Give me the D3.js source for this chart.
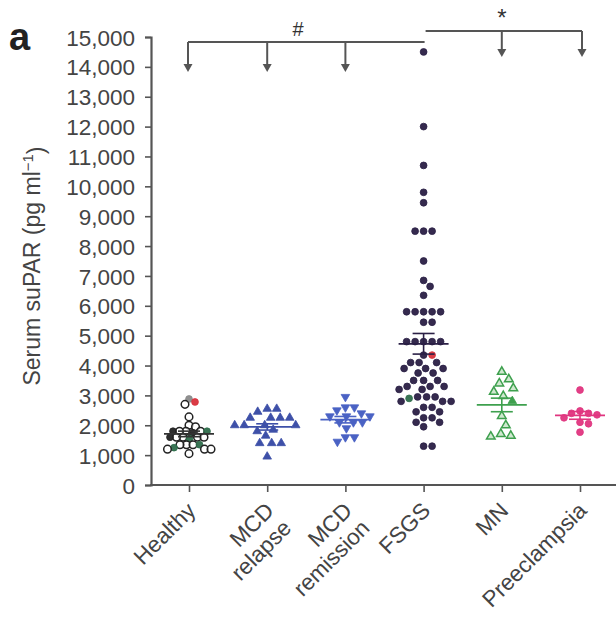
<!DOCTYPE html>
<html>
<head>
<meta charset="utf-8">
<script src="https://cdn.jsdelivr.net/npm/d3@7"></script>
<style>
  body { margin: 0; background: #fff; }
  svg { font-family: "Liberation Sans", Arial, sans-serif; }
</style>
</head>
<body>
<svg width="616" height="619"></svg>
<script>
// groups along the x axis
var groups = ["Healthy", "MCD relapse", "MCD remission", "FSGS", "MN", "Preeclampsia"];
var yTicks = [0, 1000, 2000, 3000, 4000, 5000, 6000, 7000, 8000, 9000, 10000, 11000, 12000, 13000, 14000, 15000];

// serum suPAR, pg/ml
var healthyOpen = [2700, 2280, 1950, 2000, 1800, 1800, 1800, 1600, 1600, 1600, 1600, 1350, 1350, 1350, 1200, 1200, 1200, 1050];
var healthyFilled = [1800, 1750, 1600];
var healthyGreen = [1800, 1350, 1250, 1550];
var healthyGray = [2880];
var healthyRed = [2780];
var mcdRelapse = [2550, 2550, 2450, 2250, 2250, 2250, 2250, 2000, 2000, 2000, 2000, 1850, 1800, 1650, 1400, 1400, 1400, 950];
var mcdRemission = [2950, 2600, 2600, 2500, 2400, 2300, 2300, 2300, 2100, 2100, 2100, 1900, 1600, 1600, 1450];
var fsgs = [14500, 12000, 10700, 9800, 9450, 8500, 8500, 8500, 7500, 6850, 6650, 6350,
            5800, 5800, 5800, 5800, 5800, 5450, 5450, 4800, 4800, 4800, 4800, 4800,
            4350, 4100, 4100, 4100, 3900, 3900, 3900, 3750, 3750, 3500, 3500, 3500,
            3300, 3300, 3300, 3200, 3200, 2950, 2950, 2950, 2800, 2800, 2800,
            2600, 2600, 2450, 2450, 2250, 2250, 2100, 2100, 1950, 1300, 1300];
var fsgsRed = [4350];
var fsgsGreen = [2900];
var mn = [3790, 3540, 3400, 3240, 3120, 2980, 2310, 2000, 1710, 1650, 1620];
var mnFilled = [2810];
var preeclampsia = [3180, 2480, 2400, 2350, 2400, 2250, 2100, 2050, 1770];

var svg = d3.select("svg");

var y = d3.scaleLinear().domain([0, 15000]).range([485, 37]);
var x = d3.scalePoint().domain(groups).range([189, 580]);

var axisColor = "#555";

// y axis
var yAxis = svg.append("g")
    .attr("transform", "translate(151,0)")
    .call(d3.axisLeft(y).tickValues(yTicks).tickFormat(d3.format(",")).tickSize(6).tickPadding(10));
yAxis.select(".domain").attr("stroke", axisColor).attr("stroke-width", 2.2);
yAxis.selectAll(".tick line").attr("stroke", axisColor).attr("stroke-width", 1.6);
yAxis.selectAll(".tick text").attr("fill", "#444").style("font-size", "22.5px")
    .attr("dy", "0.36em");

// x axis
var xAxis = svg.append("g")
    .attr("transform", "translate(0,485)")
    .call(d3.axisBottom(x).tickSize(7).tickFormat(""));
xAxis.select(".domain").remove();
xAxis.selectAll(".tick line").attr("stroke", axisColor).attr("stroke-width", 1.6);
xAxis.append("line").attr("x1", 150).attr("x2", 616)
    .attr("stroke", axisColor).attr("stroke-width", 2.2);

// rotated category labels
groups.forEach(function(g){
    var parts = g.split(" ");
    var t = svg.append("text")
        .attr("text-anchor", "end")
        .attr("transform", "translate(" + (x(g) + 8) + ",512) rotate(-45)")
        .attr("fill", "#444")
        .style("font-size", "22.5px");
    parts.forEach(function(p, i){
        t.append("tspan").attr("x", 0).attr("dy", i === 0 ? 0 : "1.1em").text(p);
    });
});

// y title
var title = svg.append("text")
    .attr("transform", "translate(40,266) rotate(-90)")
    .attr("text-anchor", "middle")
    .attr("fill", "#444")
    .style("font-size", "23px");
title.append("tspan").text("Serum suPAR (pg ml");
title.append("tspan").attr("dy", "-0.45em").style("font-size", "15px").text("\u22121");
title.append("tspan").attr("dy", "0.45em").text(")");

// panel letter
svg.append("text").attr("x", 9).attr("y", 50)
    .style("font-size", "38px").style("font-weight", "bold").attr("fill", "#222").text("a");

// beeswarm: nudge each point sideways until it clears the ones already placed
function swarm(items, cx, dist) {
    var placed = [];
    items.slice().sort(function(a, b){ return b.v - a.v; }).forEach(function(d){
        var py = y(d.v);
        for (var k = 0; k < 200; k++) {
            var off = (k === 0) ? 0 : Math.ceil(k / 2) * 0.5 * (k % 2 ? 1 : -1);
            var px = cx + off;
            var hit = placed.some(function(q){
                var dx = q.px - px, dy = q.py - py;
                return dx * dx + dy * dy < dist * dist;
            });
            if (!hit) { d.px = px; d.py = py; placed.push(d); break; }
        }
    });
    return placed;
}

function tag(arr, kind) { return arr.map(function(v){ return {v: v, kind: kind}; }); }

var series = [
    {g: "Healthy", color: "#222", items: [].concat(tag(healthyOpen, "open"), tag(healthyFilled, "fill"),
        tag(healthyGreen, "green"), tag(healthyGray, "gray"), tag(healthyRed, "red")), shape: "circleOpen", dist: 6.5},
    {g: "MCD relapse", color: "#3e50a8", items: tag(mcdRelapse, "fill"), shape: "tri", dist: 9.5},
    {g: "MCD remission", color: "#4a62c4", items: tag(mcdRemission, "fill"), shape: "triDown", dist: 9},
    {g: "FSGS", color: "#2a1f45", items: [].concat(tag(fsgs, "fill"), tag(fsgsRed, "red"), tag(fsgsGreen, "green")), shape: "circle", dist: 8.5},
    {g: "MN", color: "#3ea04e", items: [].concat(tag(mn, "open"), tag(mnFilled, "fill")), shape: "triOpen", dist: 10},
    {g: "Preeclampsia", color: "#e0357f", items: tag(preeclampsia, "fill"), shape: "circle", dist: 8.5}
];

var kindColor = {red: "#d8323c", green: "#2f6e4c", gray: "#8a8a8a"};

series.forEach(function(s){
    var pts = swarm(s.items, x(s.g), s.dist);
    var g = svg.append("g");
    pts.forEach(function(d){
        var c = kindColor[d.kind] || s.color;
        if (s.shape === "circleOpen" || s.shape === "circle") {
            var open = s.shape === "circleOpen" && d.kind === "open";
            g.append("circle").attr("cx", d.px).attr("cy", d.py).attr("r", open ? 3.8 : 3.4)
                .attr("fill", open ? "#fff" : c)
                .attr("fill-opacity", open ? 0.6 : 0.95)
                .attr("stroke", c).attr("stroke-width", open ? 1.5 : 0.8);
        } else {
            var rot = s.shape === "triDown" ? 180 : 0;
            var open2 = s.shape === "triOpen" && d.kind === "open";
            g.append("path")
                .attr("d", d3.symbol().type(d3.symbolTriangle).size(32)())
                .attr("transform", "translate(" + d.px + "," + d.py + ") rotate(" + rot + ")")
                .attr("fill", open2 ? "#cfe8cf" : c)
                .attr("stroke", c).attr("stroke-width", open2 ? 1.5 : 0.8);
        }
    });

    // mean and SEM
    var vals = s.items.map(function(d){ return d.v; });
    var m = d3.mean(vals);
    var sem = d3.deviation(vals) / Math.sqrt(vals.length);
    var cx = x(s.g);
    var lc = s.g === "Healthy" ? "#333" : s.color;
    g.append("line").attr("x1", cx - 25).attr("x2", cx + 25).attr("y1", y(m)).attr("y2", y(m))
        .attr("stroke", lc).attr("stroke-width", 1.8);
    g.append("line").attr("x1", cx).attr("x2", cx).attr("y1", y(m - sem)).attr("y2", y(m + sem))
        .attr("stroke", lc).attr("stroke-width", 1.6);
    [m - sem, m + sem].forEach(function(e){
        g.append("line").attr("x1", cx - 11).attr("x2", cx + 11).attr("y1", y(e)).attr("y2", y(e))
            .attr("stroke", lc).attr("stroke-width", 1.6);
    });
});

// significance brackets
var brackets = [
    {label: "#", from: "Healthy", to: "FSGS", targets: ["Healthy", "MCD relapse", "MCD remission"], top: 42, tip: 72, textY: 36},
    {label: "*", from: "FSGS", to: "Preeclampsia", targets: ["MN", "Preeclampsia"], top: 31, tip: 57, textY: 26}
];
brackets.forEach(function(b){
    var g = svg.append("g").attr("stroke", axisColor).attr("fill", axisColor);
    var x1 = x(b.from) - (b.from === "Healthy" ? 1 : -2), x2 = x(b.to) + (b.to === "FSGS" ? 1 : 2);
    g.append("line").attr("x1", x1).attr("x2", x2).attr("y1", b.top).attr("y2", b.top).attr("stroke-width", 2.2);
    b.targets.forEach(function(t){
        var tx = x(t) + (t === "Preeclampsia" ? 2 : 0) - (t === "Healthy" ? 1 : 0);
        g.append("line").attr("x1", tx).attr("x2", tx).attr("y1", b.top).attr("y2", b.tip - 5).attr("stroke-width", 2);
        g.append("path").attr("stroke", "none")
            .attr("d", "M" + (tx - 4.5) + "," + (b.tip - 8) + "L" + (tx + 4.5) + "," + (b.tip - 8) + "L" + tx + "," + b.tip + "Z");
    });
    var mid = b.label === "#" ? 298 : x("MN");
    svg.append("text").attr("x", mid).attr("y", b.textY).attr("text-anchor", "middle")
        .attr("fill", "#333").style("font-size", b.label === "#" ? "20px" : "24px").text(b.label);
});
</script>
</body>
</html>
